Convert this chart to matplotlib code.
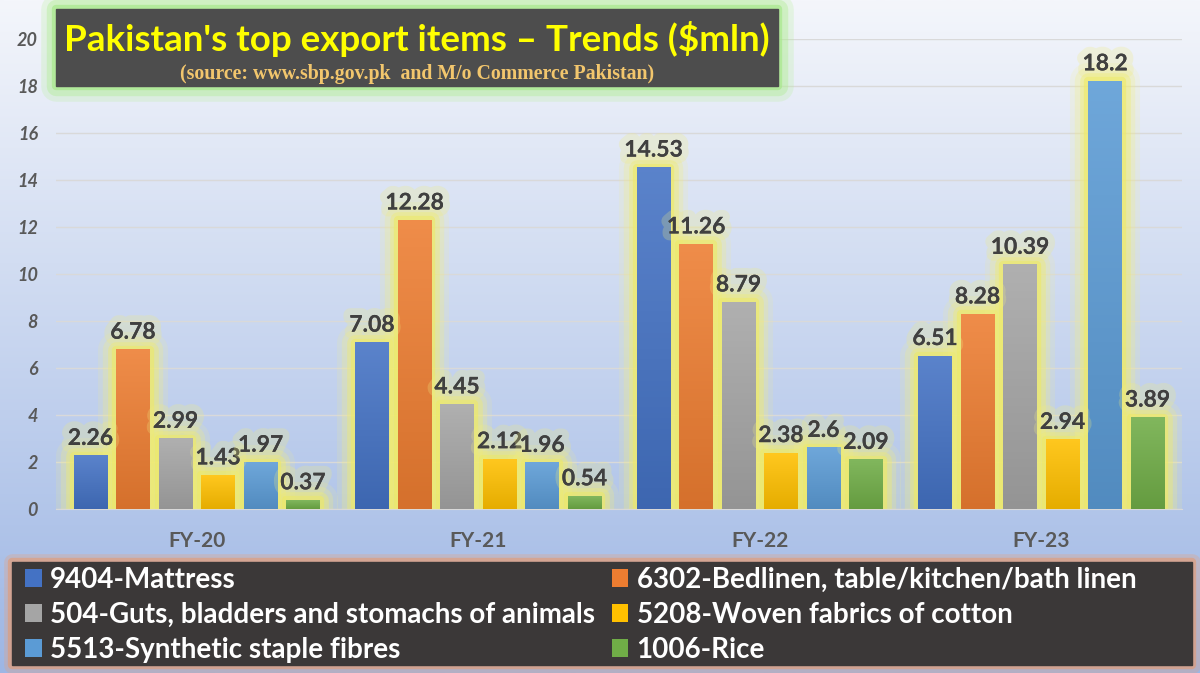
import numpy as np
import matplotlib.pyplot as plt
import matplotlib.patheffects as pe
from matplotlib.patches import Rectangle, Patch
from matplotlib.colors import to_rgb

plt.rcParams['font.family'] = ['Lato', 'DejaVu Sans']

# data ($ mln)
years = ["FY-20", "FY-21", "FY-22", "FY-23"]
items = ["9404-Mattress", "6302-Bedlinen, table/kitchen/bath linen",
         "504-Guts, bladders and stomachs of animals", "5208-Woven fabrics of cotton",
         "5513-Synthetic staple fibres", "1006-Rice"]
mattress = [2.26, 7.08, 14.53, 6.51]
bedlinen = [6.78, 12.28, 11.26, 8.28]
guts = [2.99, 4.45, 8.79, 10.39]
woven = [1.43, 2.12, 2.38, 2.94]
synthetic = [1.97, 1.96, 2.6, 18.2]
rice = [0.37, 0.54, 2.09, 3.89]
series = [mattress, bedlinen, guts, woven, synthetic, rice]
colors = ["#4472c4", "#ed7d31", "#a5a5a5", "#ffc000", "#5b9bd5", "#70ad47"]

W, H = 1200, 673
fig = plt.figure(figsize=(12, 6.73), dpi=100)

# background gradient
bg = fig.add_axes([0, 0, 1, 1], zorder=-10)
g = np.linspace(0, 1, 256)[:, None, None]
top = np.array(to_rgb("#f4f6fb"))
bot = np.array(to_rgb("#9db6e4"))
bg.imshow(top + (bot - top) * g, aspect='auto', extent=(0, 1, 0, 1), origin='upper')
bg.axis('off')

ax = fig.add_axes([56 / W, (H - 509) / H, 1126 / W, 470 / H])
ax.set_facecolor('none')

x = np.arange(len(years))
pitch, width = 0.151, 0.119
glow = [pe.Stroke(linewidth=26, foreground='#f4f08a', alpha=0.15, joinstyle='round'),
        pe.Stroke(linewidth=19, foreground='#f2ee80', alpha=0.25, joinstyle='round'),
        pe.Stroke(linewidth=12, foreground='#f0ec70', alpha=0.4, joinstyle='round'),
        pe.Stroke(linewidth=6, foreground='#eeea66', alpha=0.6, joinstyle='round')]
label_glow = [pe.withStroke(linewidth=10, foreground='#f0ec80', alpha=0.25)]

for i, (vals, c) in enumerate(zip(series, colors)):
    pos = x + (i - 2.5) * pitch
    gb = ax.bar(pos, vals, width, color='none', edgecolor='none', zorder=2)
    for b in gb:
        b.set_path_effects(glow)
    bars = ax.bar(pos, vals, width, color=c, zorder=3)
    # vertical gradient on each bar
    base = np.array(to_rgb(c))
    light = base + (1 - base) * 0.12
    dark = base * 0.9
    t = np.linspace(0, 1, 64)[:, None, None]
    img = light + (dark - light) * t
    for b in bars:
        ax.imshow(img, extent=(b.get_x(), b.get_x() + b.get_width(), 0, b.get_height()),
                  aspect='auto', origin='upper', zorder=3.5)
    txts = ax.bar_label(bars, labels=[f"{v:g}" for v in vals], padding=5,
                        fontsize=16.5, fontweight='bold', color='#404040', zorder=5)
    for tx in txts:
        tx.set_path_effects(label_glow + [pe.Normal()])

ax.set_xlim(-0.5, 3.5)
ax.set_ylim(0, 20)
ax.set_yticks(range(0, 21, 2))
ax.set_xticks(x)
ax.set_xticklabels(years, fontsize=15, fontweight='bold', color='#595959')
for lab in ax.get_yticklabels():
    lab.set_fontsize(13)
    lab.set_fontweight('bold')
    lab.set_fontstyle('italic')
    lab.set_color('#595959')
ax.tick_params(axis='y', length=0, pad=13)
ax.tick_params(axis='x', length=0, pad=16)
ax.yaxis.grid(True, color='#d9d9d9', lw=1)
ax.set_axisbelow(True)
for s in ['top', 'right', 'left']:
    ax.spines[s].set_visible(False)
ax.spines['bottom'].set_color('#d9d9d9')

# title box
tbox = Rectangle((56 / W, (H - 86) / H), 722 / W, 77 / H, transform=fig.transFigure,
                 facecolor='#4d4d4d', edgecolor='#4d4d4d', zorder=5)
tbox.set_path_effects([pe.Stroke(linewidth=22, foreground='#b8ee9c', alpha=0.25, joinstyle='round'),
                       pe.Stroke(linewidth=14, foreground='#b0ec94', alpha=0.4, joinstyle='round'),
                       pe.Stroke(linewidth=6, foreground='#a8e88c', alpha=0.7, joinstyle='round'),
                       pe.Normal()])
fig.patches.append(tbox)
fig.text(417 / W, (H - 51) / H, "Pakistan's top export items \u2013 Trends ($mln)",
         ha='center', va='baseline', fontsize=26.5, fontweight='bold', color='#ffff00', zorder=6)
fig.text(417 / W, (H - 79) / H, "(source: www.sbp.gov.pk  and M/o Commerce Pakistan)",
         ha='center', va='baseline', fontsize=14.3, fontweight='bold', color='#f2c66d',
         family='Liberation Serif', zorder=6)

# legend box
lbox = Rectangle((12 / W, (H - 665) / H), 1180 / W, 103 / H, transform=fig.transFigure,
                 facecolor='#3b3838', edgecolor='#3b3838', zorder=5)
lbox.set_path_effects([pe.Stroke(linewidth=12, foreground='#e8a07a', alpha=0.3, joinstyle='round'),
                       pe.Stroke(linewidth=6, foreground='#e49a72', alpha=0.6, joinstyle='round'),
                       pe.Normal()])
fig.patches.append(lbox)

order = [0, 2, 4, 1, 3, 5]
handles = [Patch(facecolor=colors[k], edgecolor='none') for k in order]
leg = fig.legend(handles, [items[k] for k in order], ncol=2, loc='upper left',
                 bbox_to_anchor=(25 / W, (H - 567) / H), frameon=False,
                 prop={'size': 20, 'weight': 'bold'}, labelcolor='white',
                 handlelength=0.6, handleheight=0.6, handletextpad=0.3,
                 columnspacing=0.6, labelspacing=0.32, borderpad=0, borderaxespad=0)
leg.set_zorder(7)

fig.savefig("out.png", dpi=100)
